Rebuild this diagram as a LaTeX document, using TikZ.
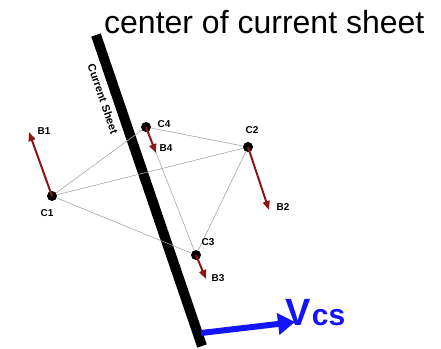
\documentclass[tikz,border=0pt]{standalone}
\usepackage{fontspec}
\setmainfont{Liberation Sans}
\definecolor{bred}{RGB}{140,22,22}
\definecolor{vblue}{RGB}{20,20,250}
\usetikzlibrary{arrows.meta,positioning}

\begin{document}
\begin{tikzpicture}[x=1pt,y=-1pt,
  sat/.style={circle,fill=black,inner sep=0pt,minimum size=10pt},
  lbl/.style={font=\fontsize{10}{12}\selectfont\bfseries,inner sep=1pt},
  edge/.style={gray!70,line width=0.6pt},
  field/.style={bred,line width=2pt,-{Triangle[length=9pt,width=7pt]}}]
  \useasboundingbox (0,0) rectangle (441,348);
  % current sheet
  \coordinate (s0) at (96,35);
  \coordinate (s1) at (202,346);
  \draw[line width=10pt] (s0) -- (s1);
  \node[font=\fontsize{11}{13}\selectfont\bfseries,rotate=-71,inner sep=0pt] (cs) at (103,99) {Current Sheet};
  \node[font=\fontsize{32}{35}\selectfont,anchor=base west,inner sep=0pt] (title) at (104,33) {center of current sheet};
  % spacecraft
  \node[sat] (c1) at (52,196) {};
  \node[sat] (c2) at (248,147) {};
  \node[sat] (c3) at (196,255) {};
  \node[sat] (c4) at (146,127) {};
  \draw[edge] (c1) -- (c4);
  \draw[edge] (c1) -- (c2);
  \draw[edge] (c1) -- (c3);
  \draw[edge] (c4) -- (c2);
  \draw[edge] (c4) -- (c3);
  \draw[edge] (c2) -- (c3);
  % field vectors
  \coordinate (b1) at (29,132);
  \coordinate (b2) at (269,210);
  \coordinate (b3) at (206,279);
  \coordinate (b4) at (156,153);
  \draw[field] (c1.center) -- (b1);
  \draw[field] (c2.center) -- (b2);
  \draw[field] (c3.center) -- (b3);
  \draw[field] (c4.center) -- (b4);
  \node[lbl] (l1) at (44,131) {B1};
  \node[lbl] (l2) at (283,207) {B2};
  \node[lbl] (l3) at (218,278) {B3};
  \node[lbl] (l4) at (166,148) {B4};
  \node[lbl] (k1) at (47,213) {C1};
  \node[lbl] (k2) at (252,130) {C2};
  \node[lbl] (k3) at (208,242) {C3};
  \node[lbl] (k4) at (164,124) {C4};
  % sheet velocity
  \coordinate (v0) at (201,333);
  \coordinate (v1) at (295,322);
  \draw[vblue,line width=6pt,-{Triangle[length=17pt,width=21pt]}] (v0) -- (v1);
  \node[vblue,anchor=base west,inner sep=0pt,font=\fontsize{38}{40}\selectfont\bfseries] (vv) at (285,325) {V};
  \node[vblue,anchor=base west,inner sep=0pt,font=\fontsize{30}{32}\selectfont\bfseries] (vs) at ([xshift=1pt]vv.base east) {cs};
\end{tikzpicture}
\end{document}
